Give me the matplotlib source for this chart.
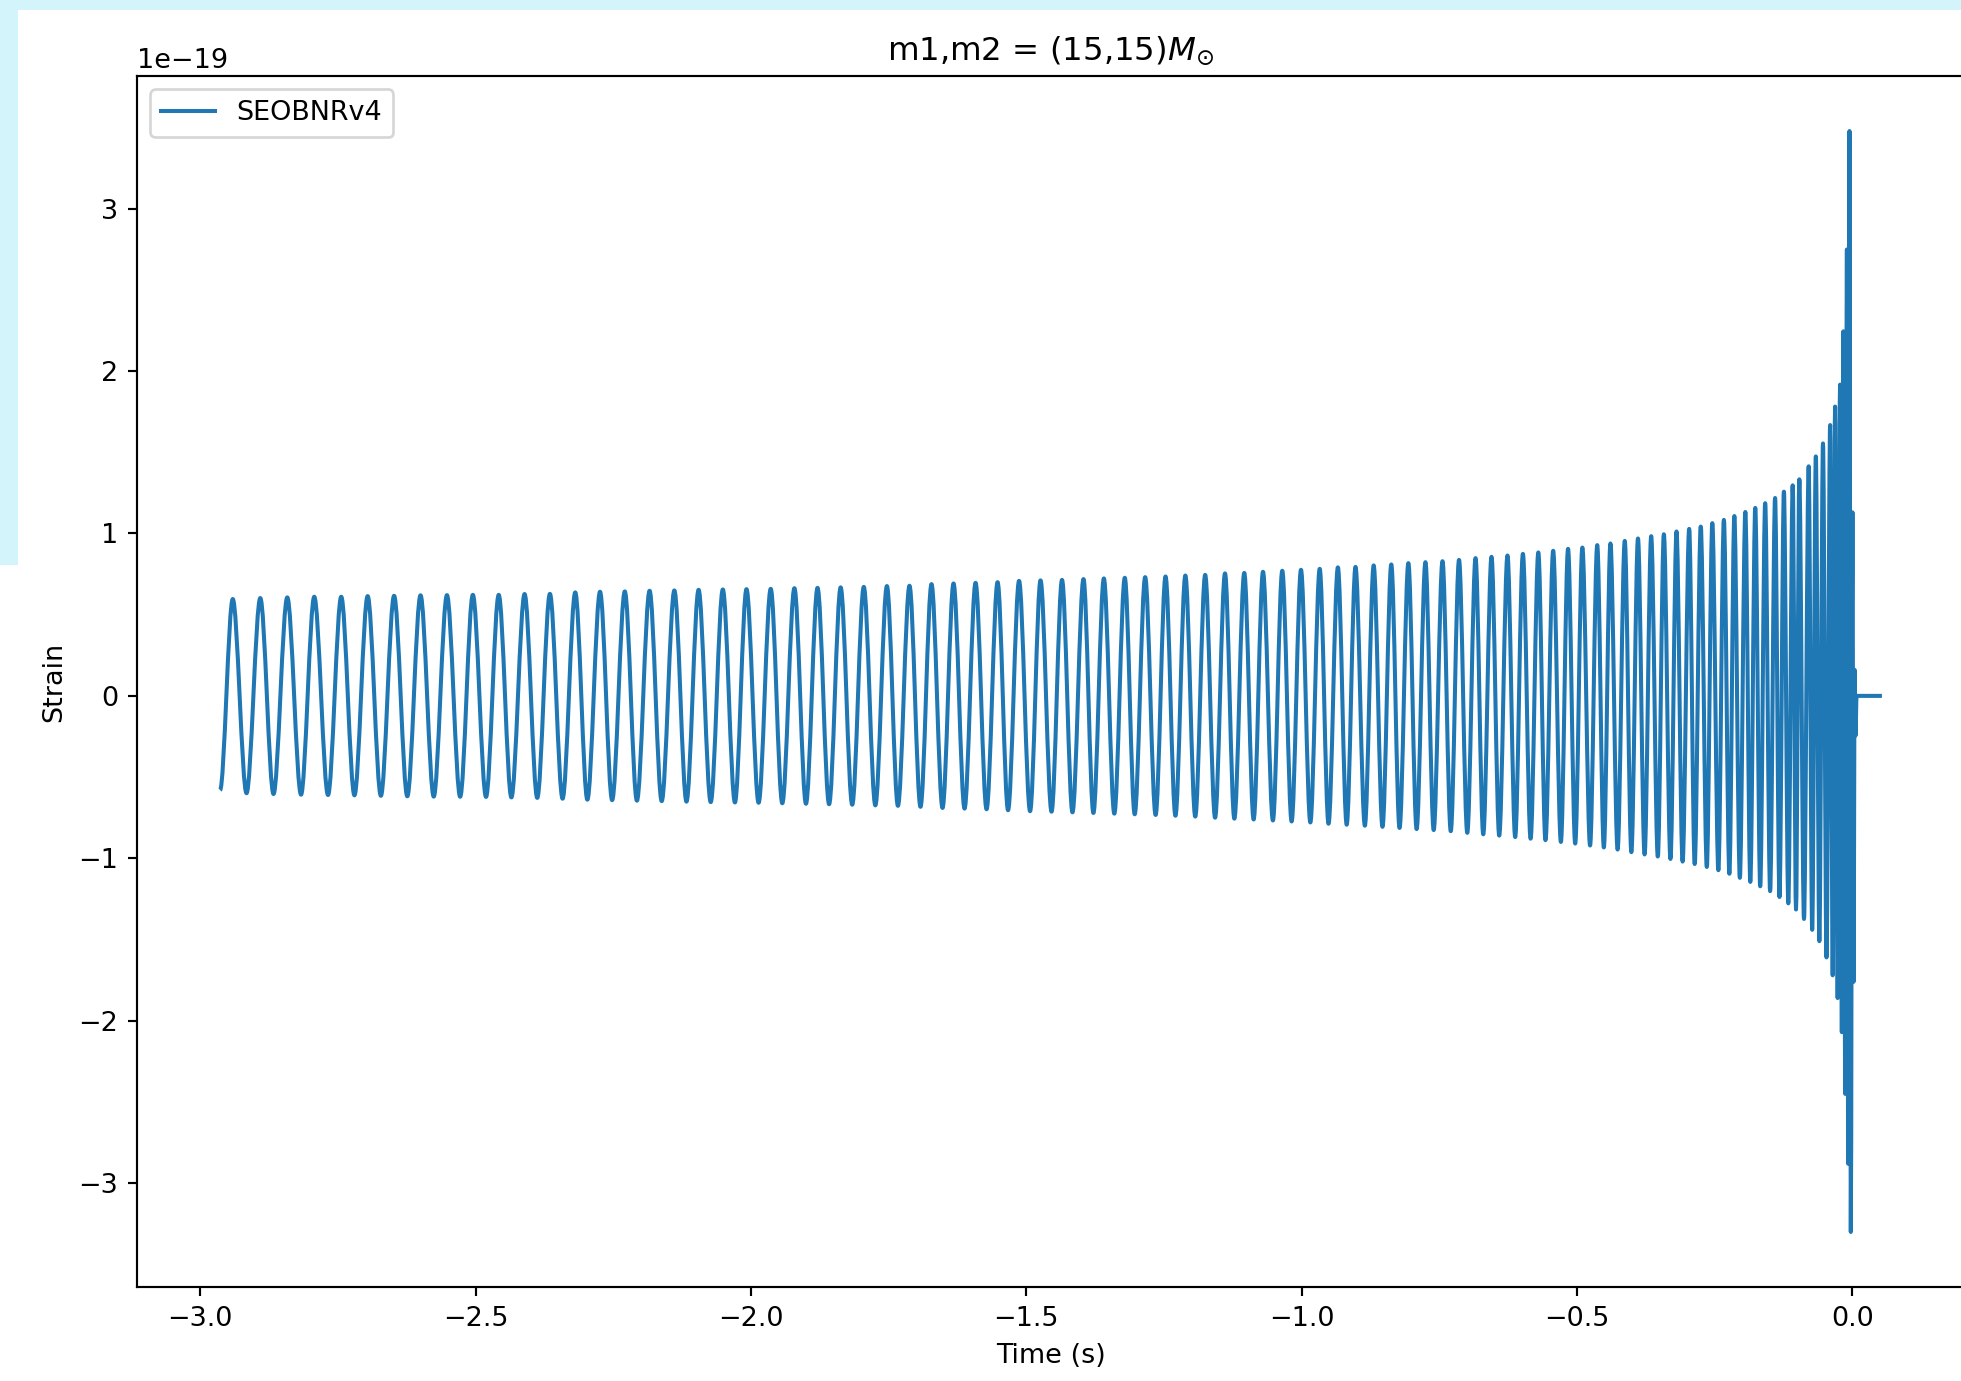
import matplotlib
matplotlib.use("Agg")
import matplotlib.pyplot as plt
from matplotlib.path import Path
from matplotlib.patches import PathPatch, Rectangle
from matplotlib.lines import Line2D

W, H, DPI = 1961, 1381, 194
SCALE = 1e-19

# waveform extrema (time in s, strain in units of 1e-19)
start_t, start_h = -2.964, -0.58

peak_t = [-2.941, -2.891, -2.842, -2.793, -2.744, -2.696, -2.648, -2.600, -2.552, -2.505,
          -2.458, -2.411, -2.365, -2.319, -2.274, -2.229, -2.184, -2.139, -2.095, -2.051,
          -2.008, -1.964, -1.921, -1.879, -1.837, -1.795, -1.753, -1.712, -1.672, -1.632,
          -1.592, -1.552, -1.513, -1.474, -1.435, -1.396, -1.359, -1.321, -1.284, -1.247,
          -1.211, -1.175, -1.139, -1.104, -1.070, -1.035, -1.001, -0.967, -0.934, -0.902,
          -0.869, -0.837, -0.806, -0.775, -0.744, -0.714, -0.684, -0.655, -0.626, -0.598,
          -0.570, -0.543, -0.516, -0.490, -0.463, -0.439, -0.413, -0.389, -0.365, -0.342,
          -0.319, -0.296, -0.275, -0.254, -0.233, -0.214, -0.194, -0.176, -0.158, -0.140,
          -0.124, -0.108, -0.096, -0.079, -0.066, -0.053, -0.040, -0.031, -0.022, -0.016,
          -0.0096, -0.0049]
peak_h = [0.596, 0.602, 0.606, 0.610, 0.610, 0.614, 0.616, 0.619, 0.620, 0.622,
          0.622, 0.627, 0.628, 0.637, 0.641, 0.643, 0.647, 0.649, 0.653, 0.655,
          0.657, 0.659, 0.663, 0.665, 0.668, 0.671, 0.676, 0.678, 0.688, 0.692,
          0.696, 0.700, 0.708, 0.711, 0.714, 0.719, 0.723, 0.727, 0.731, 0.735,
          0.741, 0.745, 0.754, 0.757, 0.764, 0.770, 0.776, 0.782, 0.791, 0.794,
          0.803, 0.809, 0.817, 0.823, 0.829, 0.837, 0.848, 0.856, 0.864, 0.874,
          0.883, 0.893, 0.905, 0.913, 0.928, 0.938, 0.954, 0.969, 0.983, 0.995,
          1.012, 1.028, 1.042, 1.063, 1.083, 1.107, 1.132, 1.157, 1.186, 1.218,
          1.257, 1.296, 1.333, 1.413, 1.474, 1.554, 1.667, 1.781, 1.916, 2.244,
          2.748, 3.477]

trough_t = [-2.916, -2.867, -2.817, -2.768, -2.720, -2.672, -2.624, -2.576, -2.528, -2.481,
            -2.435, -2.388, -2.342, -2.297, -2.252, -2.207, -2.162, -2.117, -2.073, -2.029,
            -1.986, -1.943, -1.900, -1.858, -1.816, -1.774, -1.733, -1.692, -1.652, -1.612,
            -1.572, -1.533, -1.493, -1.454, -1.416, -1.378, -1.340, -1.303, -1.265, -1.229,
            -1.193, -1.157, -1.122, -1.087, -1.052, -1.018, -0.984, -0.951, -0.918, -0.885,
            -0.853, -0.822, -0.791, -0.760, -0.729, -0.699, -0.670, -0.641, -0.612, -0.584,
            -0.557, -0.529, -0.503, -0.476, -0.451, -0.426, -0.401, -0.377, -0.353, -0.330,
            -0.308, -0.286, -0.264, -0.243, -0.223, -0.204, -0.185, -0.167, -0.149, -0.132,
            -0.116, -0.102, -0.0875, -0.0726, -0.0596, -0.0466, -0.0354, -0.0264, -0.0188, -0.0127,
            -0.0073, -0.0025]
trough_h = [-0.599, -0.604, -0.608, -0.610, -0.612, -0.615, -0.618, -0.620, -0.621, -0.622,
            -0.625, -0.628, -0.633, -0.639, -0.642, -0.645, -0.648, -0.651, -0.654, -0.656,
            -0.658, -0.661, -0.664, -0.667, -0.670, -0.674, -0.677, -0.683, -0.690, -0.694,
            -0.698, -0.704, -0.710, -0.713, -0.717, -0.721, -0.725, -0.729, -0.733, -0.738,
            -0.743, -0.750, -0.756, -0.761, -0.767, -0.773, -0.779, -0.787, -0.793, -0.799,
            -0.806, -0.813, -0.820, -0.826, -0.833, -0.843, -0.852, -0.860, -0.869, -0.879,
            -0.888, -0.899, -0.909, -0.921, -0.933, -0.946, -0.962, -0.976, -0.989, -1.004,
            -1.020, -1.035, -1.053, -1.073, -1.095, -1.120, -1.145, -1.172, -1.202, -1.238,
            -1.277, -1.315, -1.373, -1.440, -1.510, -1.610, -1.720, -1.860, -2.070, -2.450,
            -2.880, -3.300]

# ringdown after the last trough, then the flat tail
ring_t = [0.0005, 0.0025, 0.0045, 0.0060, 0.0080, 0.054]
ring_h = [1.13, -1.76, 0.16, -0.245, 0.0, 0.0]


def extrema_sequence():
    ts, hs = [start_t], [start_h]
    for pt, ph, tt, th in zip(peak_t, peak_h, trough_t, trough_h):
        ts += [pt, tt]
        hs += [ph, th]
    return ts + ring_t, hs + ring_h


def smooth_path(ts, hs):
    # cubic segments with flat tangents at every extremum
    verts = [(ts[0], hs[0] * SCALE)]
    codes = [Path.MOVETO]
    for i in range(1, len(ts)):
        t0, t1 = ts[i - 1], ts[i]
        dt = t1 - t0
        verts += [(t0 + dt / 3, hs[i - 1] * SCALE), (t1 - dt / 3, hs[i] * SCALE), (t1, hs[i] * SCALE)]
        codes += [Path.CURVE4] * 3
    return Path(verts, codes)


fig = plt.figure(figsize=(W / DPI, H / DPI), dpi=DPI)
fig.patch.set_facecolor("#d4f4fc")
for rect in [(18 / W, 0, 1, (H - 10) / H), (0, 0, 18 / W, (H - 565) / H)]:
    fig.add_artist(Rectangle(rect[:2], rect[2], rect[3], transform=fig.transFigure,
                             facecolor="white", edgecolor="none", zorder=-10))

ax = fig.add_axes([137 / W, (H - 1287) / H, (1965 - 137) / W, (1287 - 76) / H])
ts, hs = extrema_sequence()
ax.add_patch(PathPatch(smooth_path(ts, hs), facecolor="none", edgecolor="C0",
                       lw=1.5, joinstyle="round", capstyle="butt"))
ax.margins(0.05)
ax.autoscale_view()

ax.set_title(r"m1,m2 = (15,15)$M_{\odot}$")
ax.set_xlabel("Time (s)")
ax.set_ylabel("Strain")
ax.legend(handles=[Line2D([], [], color="C0", lw=1.5, label="SEOBNRv4")], loc="upper left")

fig.savefig("out.png", dpi=DPI, facecolor=fig.get_facecolor())
